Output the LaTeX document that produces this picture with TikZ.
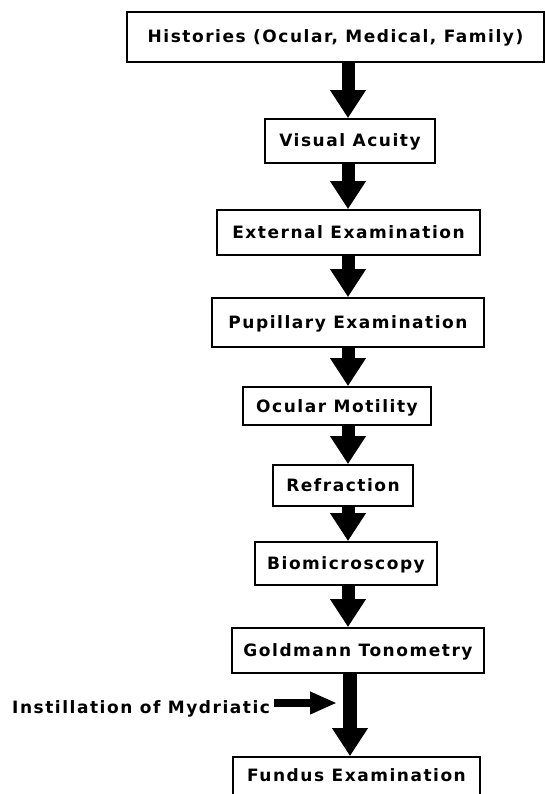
\documentclass[tikz,border=0pt]{standalone}
\usepackage{fontspec}
\setmainfont{DejaVu Sans}[LetterSpace=9]
\usetikzlibrary{arrows.meta}

\begin{document}
\begin{tikzpicture}[x=1pt,y=-1pt,
  stage/.style={draw, line width=1.8pt, inner sep=0pt,
    font=\bfseries\fontsize{17}{19}\selectfont,
    text height=12pt, text depth=0pt},
  flow/.style={line width=13pt, -{Triangle[width=34pt,length=28pt]}},
  feed/.style={line width=8pt, -{Triangle[width=21pt,length=27pt]}},
  note/.style={inner sep=0pt, anchor=west,
    font=\bfseries\fontsize{17}{19}\selectfont,
    text height=12pt, text depth=0pt}
]
\useasboundingbox (0,0) rectangle (545,794);

% vertical axis of the flow arrows
\coordinate (axis) at (348,0);

% examination stages
\node[stage, minimum width=417pt, minimum height=50pt] (hist) at (335.5,37)
  {Histories (Ocular, Medical, Family)};
\node[stage, minimum width=170pt, minimum height=44pt] (va) at (350,141)
  {Visual Acuity};
\node[stage, minimum width=263pt, minimum height=45pt] (ext) at (348.5,232.5)
  {External Examination};
\node[stage, minimum width=272pt, minimum height=49pt] (pup) at (348,322.5)
  {Pupillary Examination};
\node[stage, minimum width=188pt, minimum height=38pt] (ocm) at (337,406)
  {Ocular Motility};
\node[stage, minimum width=140pt, minimum height=41pt] (ref) at (343,485.5)
  {Refraction};
\node[stage, minimum width=182pt, minimum height=43pt] (bio) at (346,563.5)
  {Biomicroscopy};
\node[stage, minimum width=252pt, minimum height=45pt] (gold) at (358,650.5)
  {Goldmann Tonometry};
% last stage runs past the lower edge; its label sits near the top
\node[stage, minimum width=247pt, minimum height=56pt, text depth=20pt] (fund) at (356.5,785)
  {Fundus Examination};

% side input
\node[note] (instill) at (12,707) {Instillation of Mydriatic};
\coordinate (mydtip) at (337,703);

% connectors
\draw[flow] (hist.south -| axis) -- (va.north -| axis);
\draw[flow] (va.south -| axis) -- (ext.north -| axis);
\draw[flow] (ext.south -| axis) -- (pup.north -| axis);
\draw[flow] (pup.south -| axis) -- (ocm.north -| axis);
\draw[flow] (ocm.south -| axis) -- (ref.north -| axis);
\draw[flow] (ref.south -| axis) -- (bio.north -| axis);
\draw[flow] (bio.south -| axis) -- (gold.north -| axis);
\draw[flow, line width=14pt] ([xshift=2pt]gold.south -| axis) -- ([xshift=2pt]fund.north -| axis);
\draw[feed, shorten <=4pt] (instill.east |- mydtip) -- (mydtip);
\end{tikzpicture}
\end{document}
